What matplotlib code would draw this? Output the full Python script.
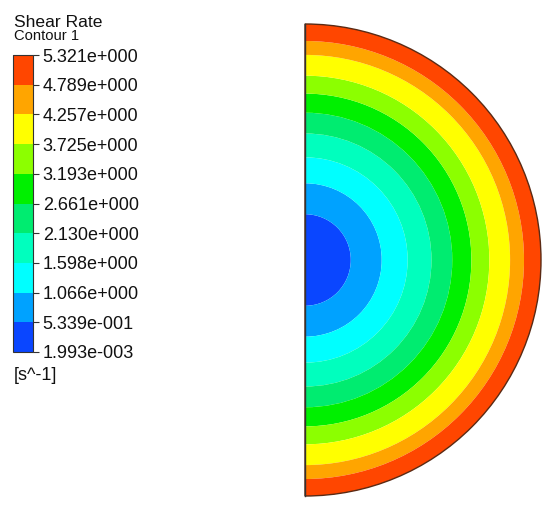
import matplotlib
matplotlib.use("Agg")
import matplotlib.pyplot as plt
from matplotlib.patches import Wedge
from matplotlib.colors import ListedColormap, BoundaryNorm
import matplotlib.colorbar as mcolorbar

plt.rcParams['font.family'] = ['Liberation Sans', 'DejaVu Sans']

# ---- data ----
levels = [1.993e-3, 5.339e-1, 1.066, 1.598, 2.130, 2.661, 3.193, 3.725, 4.257, 4.789, 5.321]
level_labels = ["1.993e-003", "5.339e-001", "1.066e+000", "1.598e+000", "2.130e+000",
                "2.661e+000", "3.193e+000", "3.725e+000", "4.257e+000", "4.789e+000", "5.321e+000"]
band_colors = ["#0a46ff", "#00a2ff", "#00ffff", "#00ffbe", "#00ec70",
               "#00f000", "#8cff00", "#ffff00", "#ffa500", "#ff4600"]
# outer radius (fraction of pipe radius) of each band, inner to outer
band_outer_radius = [0.194, 0.325, 0.435, 0.536, 0.624, 0.705, 0.781, 0.869, 0.928, 1.0]

W, H = 550, 505
fig = plt.figure(figsize=(W / 100, H / 100), dpi=100)

# ---- half disk contour ----
cx, cy, Rpx = 305, 260, 236
ax = fig.add_axes([0, 0, 1, 1])
ax.set_xlim(-cx / Rpx, (W - cx) / Rpx)
ax.set_ylim(-(H - cy) / Rpx, cy / Rpx)
ax.axis('off')

inner = 0.0
for r, c in zip(band_outer_radius, band_colors):
    ax.add_patch(Wedge((0, 0), r, -90, 90, width=r - inner, facecolor=c,
                       edgecolor='none', antialiased=True))
    inner = r
ax.add_patch(Wedge((0, 0), band_outer_radius[-1], -90, 90, facecolor='none',
                   edgecolor='#5a2a14', linewidth=1.0))
ax.plot([0, 0], [-1, 1], color='#333333', linewidth=1.0)

# ---- legend colour bar ----
cax = fig.add_axes([13 / W, (H - 352) / H, 20 / W, 297 / H])
cmap = ListedColormap(band_colors)
norm = BoundaryNorm(levels, cmap.N)
cb = mcolorbar.ColorbarBase(cax, cmap=cmap, norm=norm, boundaries=levels,
                            spacing='uniform', ticks=levels, orientation='vertical')
cb.set_ticklabels(level_labels)
cb.outline.set_edgecolor('#333333')
cb.outline.set_linewidth(0.8)
cax.tick_params(axis='y', length=4, width=0.8, color='#333333', pad=3,
                labelsize=13, labelcolor='#111111')

fig.text(14 / W, 1 - 26.7 / H, "Shear Rate", fontsize=12.6, color='#111111',
         ha='left', va='baseline')
fig.text(14 / W, 1 - 40.5 / H, "Contour 1", fontsize=10.6, color='#111111',
         ha='left', va='baseline')
fig.text(14 / W, 1 - 375 / H, "[s^-1]", fontsize=13, color='#111111',
         ha='left', va='center')

fig.savefig("out.png", dpi=100)
